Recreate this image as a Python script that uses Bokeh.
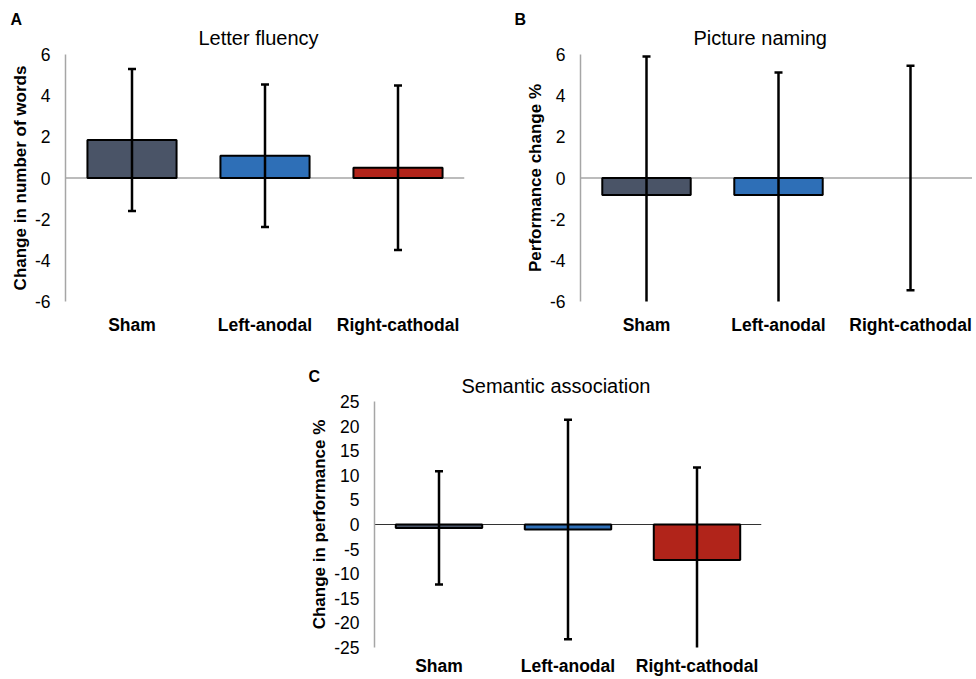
from bokeh.plotting import figure
from bokeh.models import Range1d, FixedTicker, Span, Title, Spacer, ColumnDataSource
from bokeh.layouts import column, row
from bokeh.embed import file_html
from bokeh.resources import INLINE

# ---------------- data ----------------
categories = ["Sham", "Left-anodal", "Right-cathodal"]
bar_colors = ["#4a5467", "#2e6fb7", "#b1241a"]

fluency_mean = [1.85, 1.08, 0.50]
fluency_err = [3.45, 3.46, 4.00]

naming_mean = [-0.83, -0.83, 0.0]
naming_err = [6.73, 5.96, 5.45]

semantic_mean = [-0.7, -1.0, -7.2]
semantic_err = [11.5, 22.3, 18.8]

ticks_ab = [-6, -4, -2, 0, 2, 4, 6]
ticks_c = [-25, -20, -15, -10, -5, 0, 5, 10, 15, 20, 25]

FONT = "Liberation Sans"


def make_panel(letter, title, ylabel, means, errs, yticks, width, height,
               borders, x_end, title_offset, title_standoff, letter_offset,
               letter_standoff, zero_color, zero_width, xlabel_standoff):
    left, right, top, bottom = borders
    p = figure(width=width, height=height, title=None,
               x_range=Range1d(0.5, x_end),
               y_range=Range1d(yticks[0], yticks[-1]),
               output_backend="svg", toolbar_location=None,
               min_border_left=left, min_border_right=right,
               min_border_top=top, min_border_bottom=bottom)
    p.xgrid.visible = False
    p.ygrid.visible = False
    p.outline_line_color = None
    p.background_fill_color = "white"
    p.border_fill_color = "white"

    xs = [i + 1 for i in range(len(categories))]
    src = ColumnDataSource(dict(
        x=xs, top=means,
        upper=[m + e for m, e in zip(means, errs)],
        lower=[m - e for m, e in zip(means, errs)],
        color=bar_colors,
        lalpha=[0 if m == 0 else 1 for m in means],
    ))

    p.add_layout(Span(location=0, dimension="width", line_color=zero_color,
                      line_width=zero_width, level="underlay"))
    p.vbar(x="x", top="top", bottom=0, width=0.67, fill_color="color",
           line_color="black", line_alpha="lalpha", line_width=2, source=src)
    p.segment(x0="x", y0="lower", x1="x", y1="upper", line_color="black",
              line_width=2.5, source=src)
    for col in ("upper", "lower"):
        p.scatter(x="x", y=col, marker="dash", size=8, line_color="black",
                  line_width=2.5, source=src)

    # title and panel letter
    p.add_layout(Title(text=title, align="left", offset=title_offset,
                       text_font=FONT, text_font_size="20px",
                       text_font_style="normal", text_color="black",
                       standoff=title_standoff), "above")
    p.add_layout(Title(text=letter, align="left", offset=letter_offset,
                       text_font=FONT, text_font_size="16px",
                       text_font_style="bold", text_color="black",
                       standoff=letter_standoff), "above")

    # y axis
    ya = p.yaxis[0]
    ya.ticker = FixedTicker(ticks=yticks)
    ya.major_label_overrides = {t: str(t) for t in yticks}
    ya.axis_label = ylabel
    ya.axis_label_text_font = FONT
    ya.axis_label_text_font_size = "17px"
    ya.axis_label_text_font_style = "bold"
    ya.axis_label_text_color = "black"
    ya.axis_label_standoff = 2
    ya.major_label_text_font = FONT
    ya.major_label_text_font_size = "17.5px"
    ya.major_label_text_color = "black"
    ya.major_label_standoff = 15
    ya.major_tick_line_color = None
    ya.major_tick_out = 0
    ya.major_tick_in = 0
    ya.minor_tick_line_color = None
    ya.axis_line_color = "#a6a6a6"
    ya.axis_line_width = 1.5

    # x axis
    xa = p.xaxis[0]
    xa.ticker = FixedTicker(ticks=xs)
    xa.major_label_overrides = {x: c for x, c in zip(xs, categories)}
    xa.axis_line_color = None
    xa.major_tick_line_color = None
    xa.major_tick_out = 0
    xa.major_tick_in = 0
    xa.minor_tick_line_color = None
    xa.major_label_text_font = FONT
    xa.major_label_text_font_size = "17.5px"
    xa.major_label_text_font_style = "bold"
    xa.major_label_text_color = "black"
    xa.major_label_standoff = xlabel_standoff
    return p


pA = make_panel("A", "Letter fluency", "Change in number of words",
                fluency_mean, fluency_err, ticks_ab, 486, 344,
                (65, 22, 54, 43), 3.5, 133, 11, -55, -16,
                "#a6a6a6", 1.5, 13)
pB = make_panel("B", "Picture naming", "Performance change %",
                naming_mean, naming_err, ticks_ab, 486, 344,
                (94, 0, 54, 43), 0.5 + 392 / 132, 113, 11, -66, -16,
                "#a6a6a6", 1.5, 13)
pC = make_panel("C", "Semantic association", "Change in performance %",
                semantic_mean, semantic_err, ticks_c, 490, 334,
                (76, 27, 57, 31), 3.5, 87, 10, -66, -34,
                "#333333", 1.2, 8)

layout = column(row(pA, pB), row(Spacer(width=298, height=334), pC))

with open("out.html", "w") as f:
    f.write(file_html(layout, INLINE))
